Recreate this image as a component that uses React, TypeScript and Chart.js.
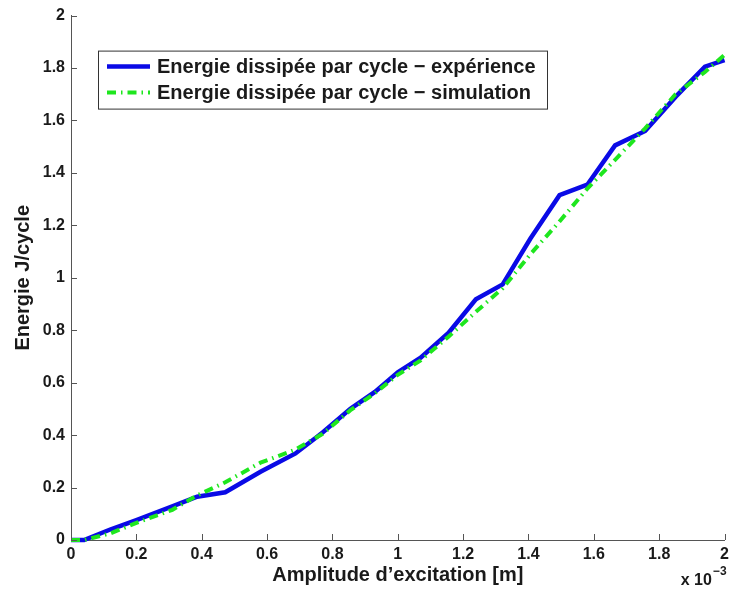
import React, { useEffect, useRef } from 'react';
import { Chart, registerables } from 'chart.js';

Chart.register(...registerables);

// Amplitude (x 10^-3 m)
const amplitudes = [0, 0.04, 0.12, 0.2, 0.31, 0.386, 0.472, 0.58, 0.687, 0.77, 0.855, 0.93, 1.0, 1.07, 1.155, 1.239, 1.321, 1.406, 1.495, 1.58, 1.665, 1.757, 1.85, 1.94, 2.0];
// Energie dissipée par cycle - expérience (J/cycle)
const experience = [0, 0, 0.04, 0.076, 0.128, 0.165, 0.182, 0.26, 0.33, 0.41, 0.5, 0.565, 0.64, 0.695, 0.79, 0.918, 0.975, 1.15, 1.315, 1.355, 1.505, 1.56, 1.69, 1.805, 1.83];
// Energie dissipée par cycle - simulation (J/cycle)
const simulation = [0, 0, 0.025, 0.065, 0.115, 0.17, 0.22, 0.295, 0.345, 0.405, 0.495, 0.56, 0.63, 0.685, 0.775, 0.87, 0.96, 1.09, 1.215, 1.34, 1.45, 1.57, 1.7, 1.785, 1.85];

const seriesLabels = ['Energie dissipée par cycle − expérience', 'Energie dissipée par cycle − simulation'];
const xTitle = 'Amplitude d’excitation [m]';
const yTitle = 'Energie J/cycle';
const xExponentBase = 'x 10';
const xExponent = '−3';

const FONT = '"Liberation Sans", Arial, Helvetica, sans-serif';
const TEXT = '#1a1a1a';
const AXIS = '#555555';
const BLUE = '#0a0ae6';
const GREEN = '#1ee61e';

const fmt = (v: number) => String(Number(Number(v).toFixed(1)));

const inwardTicks = {
  id: 'inwardTicks',
  afterDraw(chart: any) {
    const { ctx, chartArea, scales } = chart;
    ctx.save();
    ctx.strokeStyle = AXIS;
    ctx.lineWidth = 1;
    ctx.beginPath();
    scales.x.ticks.forEach((t: any) => {
      const px = Math.round(scales.x.getPixelForValue(t.value)) + 0.5;
      ctx.moveTo(px, chartArea.bottom);
      ctx.lineTo(px, chartArea.bottom - 6);
    });
    scales.y.ticks.forEach((t: any) => {
      const py = Math.round(scales.y.getPixelForValue(t.value)) + 0.5;
      ctx.moveTo(chartArea.left, py);
      ctx.lineTo(chartArea.left + 6, py);
    });
    ctx.stroke();
    // exponent label
    ctx.fillStyle = TEXT;
    ctx.textBaseline = 'alphabetic';
    ctx.textAlign = 'left';
    ctx.font = `bold 12px ${FONT}`;
    const expW = ctx.measureText(xExponent).width;
    ctx.font = `bold 16px ${FONT}`;
    const baseW = ctx.measureText(xExponentBase).width;
    const right = chartArea.right + 2;
    const bx = right - expW - baseW - 1;
    ctx.fillText(xExponentBase, bx, chartArea.bottom + 45);
    ctx.font = `bold 12px ${FONT}`;
    ctx.fillText(xExponent, bx + baseW + 1, chartArea.bottom + 35);
    ctx.restore();
  },
};

const boxLegend = {
  id: 'boxLegend',
  afterDatasetsDraw(chart: any) {
    const { ctx, chartArea } = chart;
    const x0 = chartArea.left + 27;
    const y0 = chartArea.top + 35;
    const w = 449;
    const h = 58;
    ctx.save();
    ctx.fillStyle = '#ffffff';
    ctx.fillRect(x0, y0, w, h);
    ctx.strokeStyle = '#333333';
    ctx.lineWidth = 1;
    ctx.strokeRect(x0 + 0.5, y0 + 0.5, w, h);
    const order = [1, 0];
    order.forEach((di, row) => {
      const ds = chart.data.datasets[di];
      const cy = y0 + 16 + row * 26;
      ctx.save();
      ctx.strokeStyle = ds.borderColor;
      ctx.lineWidth = ds.borderWidth;
      ctx.setLineDash(ds.borderDash || []);
      ctx.beginPath();
      ctx.moveTo(x0 + 9, cy);
      ctx.lineTo(x0 + 52, cy);
      ctx.stroke();
      ctx.restore();
      ctx.fillStyle = TEXT;
      ctx.font = `bold 20px ${FONT}`;
      ctx.textBaseline = 'middle';
      ctx.textAlign = 'left';
      ctx.fillText(ds.label, x0 + 59, cy + 1);
    });
    ctx.restore();
  },
};

export default function App() {
  const ref = useRef<HTMLCanvasElement>(null);
  useEffect(() => {
    if (!ref.current) return;
    const simPts = amplitudes.map((x, i) => ({ x, y: simulation[i] }));
    const expPts = amplitudes.map((x, i) => ({ x, y: experience[i] }));
    const chart = new Chart(ref.current, {
      type: 'line',
      data: {
        datasets: [
          {
            label: seriesLabels[1],
            data: simPts,
            borderColor: GREEN,
            backgroundColor: GREEN,
            borderWidth: 4,
            borderDash: [9, 5, 1.5, 5],
            pointRadius: 0,
            tension: 0,
            clip: false as any,
            order: 0,
          },
          {
            label: seriesLabels[0],
            data: expPts,
            borderColor: BLUE,
            backgroundColor: BLUE,
            borderWidth: 4.5,
            pointRadius: 0,
            tension: 0,
            clip: false as any,
            order: 1,
          },
        ],
      },
      options: {
        responsive: false,
        animation: false,
        events: [],
        layout: { padding: { top: 15, right: 6, left: 0, bottom: 0 } },
        scales: {
          x: {
            type: 'linear',
            min: 0,
            max: 2,
            afterFit: (s: any) => { s.height = 52; },
            ticks: { stepSize: 0.2, padding: 5, color: TEXT, font: { family: FONT, size: 16, weight: 'bold' }, callback: (v: any) => fmt(v), maxRotation: 0, autoSkip: false },
            grid: { display: true, drawOnChartArea: false, drawTicks: false },
            border: { display: true, color: AXIS, width: 1 },
            title: { display: true, text: xTitle, color: TEXT, font: { family: FONT, size: 20, weight: 'bold' }, padding: { top: 0, bottom: 5 } },
          },
          y: {
            type: 'linear',
            min: 0,
            max: 2,
            afterFit: (s: any) => { s.width = 71; },
            ticks: { stepSize: 0.2, padding: 6, color: TEXT, font: { family: FONT, size: 16, weight: 'bold' }, callback: (v: any) => fmt(v), autoSkip: false },
            grid: { display: true, drawOnChartArea: false, drawTicks: false },
            border: { display: true, color: AXIS, width: 1 },
            title: { display: true, text: yTitle, color: TEXT, font: { family: FONT, size: 20, weight: 'bold' }, padding: { top: 11, bottom: 0 } },
          },
        },
        plugins: { legend: { display: false }, tooltip: { enabled: false } },
      } as any,
      plugins: [boxLegend, inwardTicks],
    });
    return () => chart.destroy();
  }, []);
  return (
    <div style={{ position: 'absolute', left: 0, top: 0, width: 734, height: 592, background: '#fff' }}>
      <canvas ref={ref} width={734} height={592} style={{ display: 'block', width: 734, height: 592 }} />
    </div>
  );
}
